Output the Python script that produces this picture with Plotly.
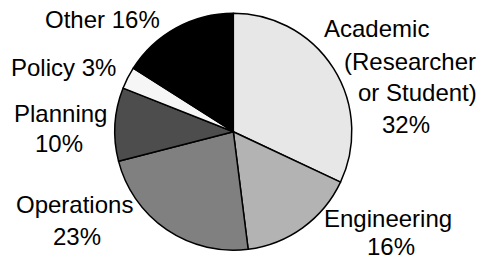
import plotly.graph_objects as go

# ---- data ----
categories = ["Academic (Researcher or Student)", "Engineering", "Operations", "Planning", "Policy", "Other"]
values = [32, 16, 23, 10, 3, 16]
colors = ["#e7e7e7", "#b3b3b3", "#808080", "#4d4d4d", "#f6f6f6", "#000000"]

# label line wrapping (text) per category, the {p} slot gets the percentage
label_lines = [
    ["Academic", "(Researcher", "or Student)", "{p}%"],
    ["Engineering", "{p}%"],
    ["Operations", "{p}%"],
    ["Planning", "{p}%"],
    ["Policy {p}%"],
    ["Other {p}%"],
]

# ---- layout (pixel positions of label lines: center x, baseline y) ----
W, H = 481, 264
line_pos = [
    [(376, 37), (410, 70), (417, 101), (406, 133)],
    [(388, 227), (391, 255)],
    [(74, 213), (77, 245)],
    [(60, 122), (59, 152)],
    [(63, 76)],
    [(102, 28)],
]
FONT = 24
cx, cy, R = 233.3, 131.7, 118.5

total = sum(values)
annotations = []
for lines, poss, v in zip(label_lines, line_pos, values):
    pct = round(100 * v / total)
    for txt, (px, py) in zip(lines, poss):
        annotations.append(dict(
            x=px / W, y=1 - (py - 0.345 * FONT) / H,
            xref="paper", yref="paper",
            xanchor="center", yanchor="middle",
            text=txt.format(p=pct), showarrow=False,
            font=dict(family="Liberation Sans, Arial, sans-serif", size=FONT, color="#000000"),
        ))

fig = go.Figure(go.Pie(
    labels=categories,
    values=values,
    textinfo="none",
    sort=False,
    direction="clockwise",
    rotation=0,
    marker=dict(colors=colors, line=dict(color="#000000", width=1.5)),
    domain=dict(x=[(cx - R) / W, (cx + R) / W], y=[(H - cy - R) / H, (H - cy + R) / H]),
    showlegend=False,
    hoverinfo="label+percent",
))
fig.update_layout(
    width=W, height=H,
    margin=dict(l=0, r=0, t=0, b=0),
    paper_bgcolor="white",
    plot_bgcolor="white",
    annotations=annotations,
)
fig.write_html(
    "out.html",
    config={"displayModeBar": False},
    post_script="document.body.style.margin='0';document.body.style.overflow='hidden';",
)
